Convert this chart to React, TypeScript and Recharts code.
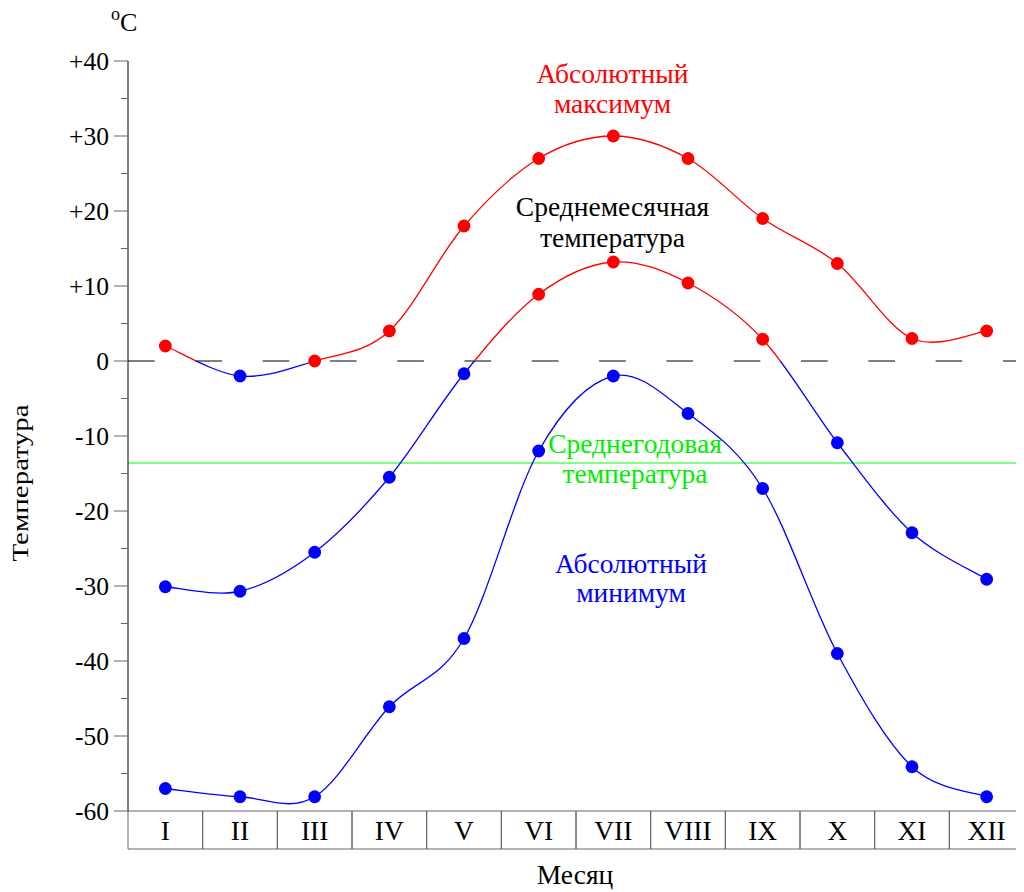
import React from "react"
import { LineChart, Line, XAxis, YAxis, ReferenceLine, Customized } from "recharts"

const months = ["I", "II", "III", "IV", "V", "VI", "VII", "VIII", "IX", "X", "XI", "XII"]
const absMax = [2, -2, 0, 4, 18, 27, 30, 27, 19, 13, 3, 4]
const meanMonthly = [-30.1, -30.7, -25.5, -15.5, -1.7, 8.9, 13.2, 10.4, 2.9, -10.9, -22.9, -29.1]
const absMin = [-57, -58.1, -58.1, -46.1, -37, -12, -2, -7, -17, -39, -54.1, -58.1]
const meanAnnual = -13.6
const yTicks = [-60, -55, -50, -45, -40, -35, -30, -25, -20, -15, -10, -5, 0, 5, 10, 15, 20, 25, 30, 35, 40]
const yTickLabels: Record<number, string> = { 40: "+40", 30: "+30", 20: "+20", 10: "+10", 0: "0", [-10]: "-10", [-20]: "-20", [-30]: "-30", [-40]: "-40", [-50]: "-50", [-60]: "-60" }

const Y_MIN = -60
const Y_MAX = 40
const W = 1016
const H = 892
const MARGIN = { top: 61, right: 0, bottom: 42, left: 0 }
const Y_AXIS_W = 120
const X_AXIS_H = 39
const BAND = (W - Y_AXIS_W - MARGIN.right) / months.length
const PLOT_TOP = MARGIN.top
const PLOT_BOTTOM = H - MARGIN.bottom - X_AXIS_H

const RED = "#ff0000"
const BLUE = "#0000ff"
const GREEN = "#00ee00"
const GRID = "#666"
const FONT = "'Liberation Serif', 'Times New Roman', serif"
const TEXT_SIZE = 27.5

const data = months.map((m, i) => ({ m: i + 1, max: absMax[i], mean: meanMonthly[i], min: absMin[i] }))

// catmull-rom style curve through every point
const smoothCurve = (context: any) => {
	let pts: [number, number][] = []
	return {
		areaStart() {},
		areaEnd() {},
		lineStart() {
			pts = []
		},
		point(x: number, y: number) {
			pts.push([x, y])
		},
		lineEnd() {
			if (!pts.length) return
			context.moveTo(pts[0][0], pts[0][1])
			for (let i = 0; i < pts.length - 1; i++) {
				const p0 = pts[i - 1] || pts[i]
				const p1 = pts[i]
				const p2 = pts[i + 1]
				const p3 = pts[i + 2] || p2
				context.bezierCurveTo(
					p1[0] + (p2[0] - p0[0]) / 6,
					p1[1] + (p2[1] - p0[1]) / 6,
					p2[0] - (p3[0] - p1[0]) / 6,
					p2[1] - (p3[1] - p1[1]) / 6,
					p2[0],
					p2[1]
				)
			}
		},
	}
}

const Dot = (props: any) => {
	const { cx, cy, value, index, dataKey } = props
	if (cx == null || cy == null) return null
	return <circle key={`${dataKey}-${index}`} cx={cx} cy={cy} r={6.4} fill={value >= 0 ? RED : BLUE} />
}

const YTick = ({ x, y, payload }: any) => {
	const label = yTickLabels[payload.value]
	const major = label !== undefined
	return (
		<g>
			<line x1={x - (major ? 14 : 7)} y1={y} x2={x} y2={y} stroke={GRID} />
			{major && (
				<text x={x - 19} y={y} dy="0.34em" textAnchor="end" fontSize={25.5} fontFamily={FONT} fill="#000">
					{label}
				</text>
			)}
		</g>
	)
}

const MonthTick = ({ x, y, payload }: any) => {
	const half = BAND / 2
	return (
		<g>
			<line x1={x - half} y1={y} x2={x - half} y2={y + X_AXIS_H - 1} stroke={GRID} />
			<line x1={x + half} y1={y} x2={x + half} y2={y + X_AXIS_H - 1} stroke={GRID} />
			<line x1={x - half} y1={y + X_AXIS_H - 1} x2={x + half} y2={y + X_AXIS_H - 1} stroke={GRID} />
			<text x={x} y={y + 29} textAnchor="middle" fontSize={TEXT_SIZE} fontFamily={FONT} fill="#000">
				{months[payload.value - 1]}
			</text>
		</g>
	)
}

const Annotations = () => (
	<g fontFamily={FONT} fontSize={TEXT_SIZE} textAnchor="middle">
		<text x={103} y={31} fontSize={26} textAnchor="start">
			<tspan fontSize={18} dy={-11}>o</tspan>
			<tspan dy={11}>C</tspan>
		</text>
		<text transform="translate(20,483) rotate(-90)" x={0} y={0} fontSize={24} textLength={157} lengthAdjust="spacingAndGlyphs">
			Температура
		</text>
		<text x={567} y={884}>Месяц</text>
		<text x={604.5} y={82.7} fill={RED}>Абсолютный</text>
		<text x={604.5} y={112.7} fill={RED}>максимум</text>
		<text x={604.5} y={216} fill="#000">Среднемесячная</text>
		<text x={604.5} y={247} fill="#000">температура</text>
		<text x={627} y={453} fill={GREEN}>Среднегодовая</text>
		<text x={627} y={483} fill={GREEN}>температура</text>
		<text x={623} y={573} fill={BLUE}>Абсолютный</text>
		<text x={623} y={602} fill={BLUE}>минимум</text>
	</g>
)

const zeroOffset = Y_MAX / (Y_MAX - Y_MIN)

export default function App() {
	return (
		<div style={{ width: W, height: H, marginTop: -8 }}>
			<LineChart width={W} height={H} data={data} margin={MARGIN}>
				<defs>
					<linearGradient id="signStroke" gradientUnits="userSpaceOnUse" x1={0} y1={PLOT_TOP} x2={0} y2={PLOT_BOTTOM}>
						<stop offset={0} stopColor={RED} />
						<stop offset={zeroOffset} stopColor={RED} />
						<stop offset={zeroOffset} stopColor={BLUE} />
						<stop offset={1} stopColor={BLUE} />
					</linearGradient>
				</defs>
				<XAxis
					type="number"
					dataKey="m"
					domain={[0.5, 12.5]}
					ticks={data.map((d) => d.m)}
					interval={0}
					height={X_AXIS_H}
					tickSize={0}
					tickMargin={0}
					tick={<MonthTick />}
					axisLine={{ stroke: GRID }}
				/>
				<YAxis
					domain={[Y_MIN, Y_MAX]}
					ticks={yTicks}
					interval={0}
					width={Y_AXIS_W}
					tickSize={0}
					tickMargin={0}
					tick={<YTick />}
					axisLine={{ stroke: "#000" }}
				/>
				<ReferenceLine y={0} stroke="#000" strokeDasharray="26.7 40.6" />
				<ReferenceLine y={meanAnnual} stroke="#00ff00" />
				<Line dataKey="max" type={smoothCurve as any} stroke="url(#signStroke)" strokeWidth={1.3} dot={Dot} isAnimationActive={false} />
				<Line dataKey="mean" type={smoothCurve as any} stroke="url(#signStroke)" strokeWidth={1.3} dot={Dot} isAnimationActive={false} />
				<Line dataKey="min" type={smoothCurve as any} stroke="url(#signStroke)" strokeWidth={1.3} dot={Dot} isAnimationActive={false} />
				<Customized component={<Annotations />} />
			</LineChart>
		</div>
	)
}
